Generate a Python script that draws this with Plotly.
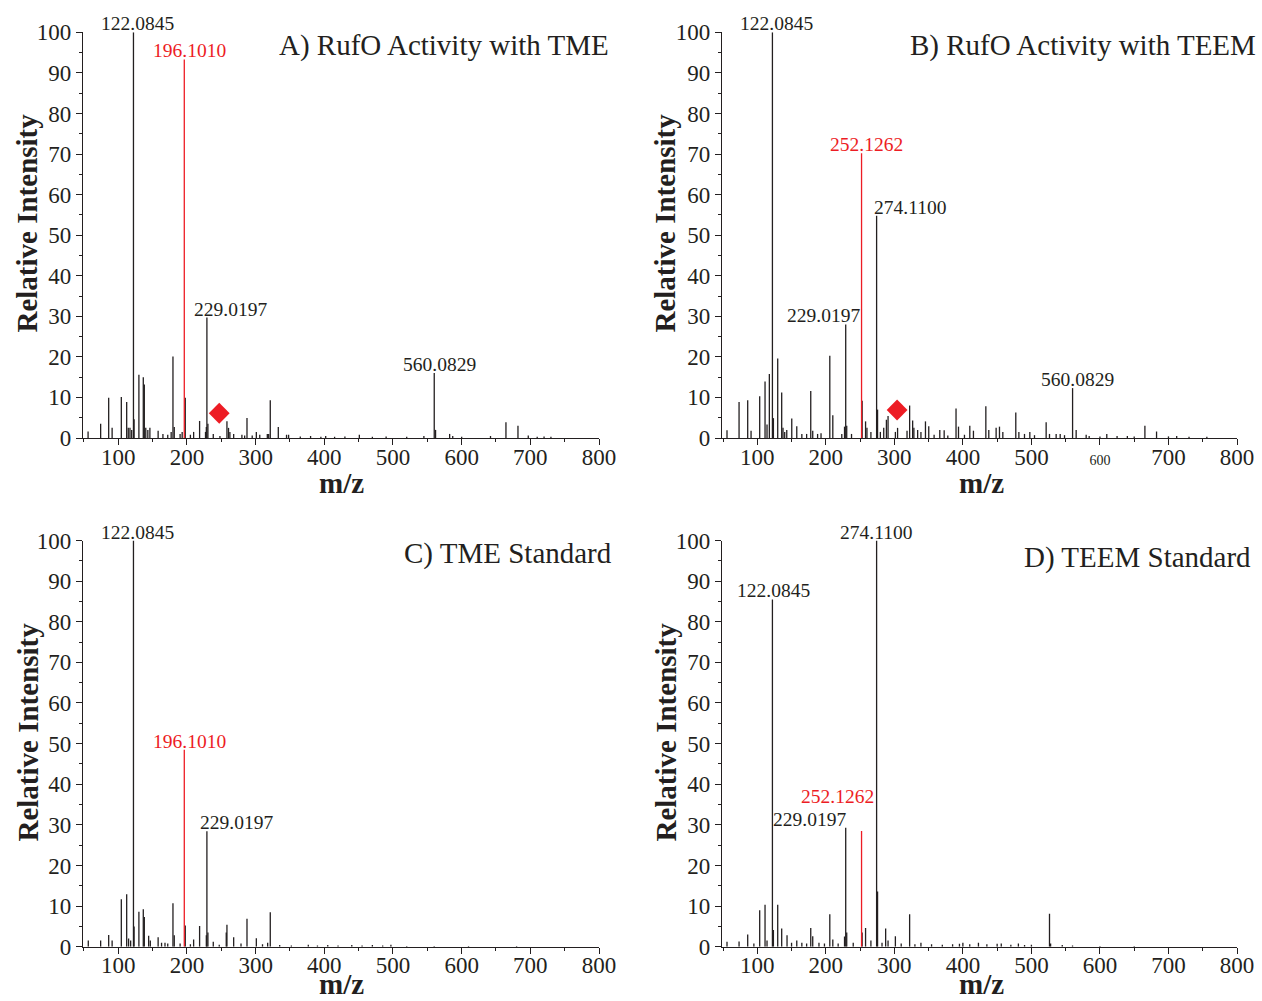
import plotly.graph_objects as go

W, H = 1262, 1001
INK = "#231f20"
RED = "#ed1c24"
FONT = "Liberation Serif, Times New Roman, serif"

# ---------------- data (m/z, relative intensity) ----------------
A_mz = [56.0, 74.3, 86.0, 91.0, 104.4, 112.2, 114.5, 117.0, 119.5, 122.08, 123.0,
        130.0, 136.4, 137.9, 140.0, 143.0, 146.0, 158.0, 165.0, 172.0, 177.0, 179.6,
        181.5, 190.0, 193.0, 197.5, 205.0, 209.7, 218.4, 227.0, 228.2, 229.02, 230.5,
        238.3, 248.0, 258.2, 260.5, 262.5, 268.0, 280.0, 284.0, 287.4, 295.0, 301.0,
        306.0, 317.0, 319.0, 321.3, 333.0, 345.0, 348.0, 365.0, 380.0, 395.0, 402.0,
        415.0, 430.0, 451.0, 470.0, 490.0, 520.0, 545.0, 560.08, 562.0, 582.5, 587.0,
        600.0, 642.0, 664.5, 682.0, 697.0, 710.0, 720.0, 730.0]
A_int = [1.6, 3.5, 9.9, 2.5, 10.1, 8.9, 2.5, 2.5, 2.0, 100.0, 4.6,
         15.6, 15.0, 13.2, 2.5, 2.0, 2.5, 1.8, 1.0, 0.8, 1.5, 20.1,
         2.7, 1.0, 1.5, 9.9, 0.8, 1.5, 4.2, 1.5, 2.7, 29.7, 3.5,
         1.0, 0.5, 4.1, 2.5, 1.5, 1.0, 0.8, 0.6, 4.9, 0.6, 1.5,
         0.8, 1.0, 1.0, 9.3, 2.7, 0.8, 0.8, 0.4, 0.5, 0.3, 0.5,
         0.3, 0.4, 0.8, 0.3, 0.4, 0.3, 0.5, 16.0, 2.0, 1.0, 0.5,
         0.3, 0.5, 3.9, 3.0, 0.6, 0.3, 0.4, 0.3]
A_red_mz = [196.10]
A_red_int = [93.3]

B_mz = [55.8, 73.4, 86.0, 90.9, 103.5, 111.3, 114.2, 117.6, 122.08, 123.5, 129.8,
        135.6, 137.5, 140.0, 143.0, 150.3, 157.6, 165.0, 172.0, 178.0, 180.9, 188.0,
        193.0, 205.8, 210.2, 223.3, 227.3, 229.02, 230.5, 237.5, 253.0, 258.0, 260.0,
        265.8, 274.11, 275.5, 279.6, 284.5, 288.4, 290.8, 301.5, 304.7, 318.5, 322.3,
        326.7, 328.5, 334.0, 338.8, 345.4, 350.2, 358.0, 366.3, 372.7, 378.0, 390.0,
        393.6, 402.3, 410.1, 415.4, 433.5, 437.8, 448.5, 453.4, 458.3, 477.2, 481.7,
        489.9, 497.7, 504.5, 521.5, 526.4, 536.1, 542.0, 548.3, 560.08, 565.3, 579.9,
        584.3, 600.0, 610.0, 625.0, 640.0, 650.0, 665.6, 682.6, 700.0, 712.0, 730.0,
        756.0]
B_int = [1.9, 8.9, 9.3, 1.8, 10.3, 13.9, 3.3, 15.8, 100.0, 4.9, 19.6,
         11.2, 2.5, 1.5, 2.0, 4.8, 2.9, 1.0, 1.0, 11.6, 1.8, 1.0,
         1.2, 20.3, 5.6, 1.0, 2.8, 28.0, 3.0, 1.0, 9.2, 4.1, 2.5,
         1.5, 54.8, 7.0, 1.5, 2.5, 4.5, 5.4, 1.5, 2.5, 1.8, 8.0,
         4.3, 2.5, 2.0, 1.5, 4.1, 2.9, 0.8, 2.0, 1.9, 0.6, 7.3,
         2.8, 0.8, 3.0, 1.8, 7.8, 2.0, 2.5, 2.8, 1.5, 6.3, 1.5,
         1.0, 1.5, 0.7, 3.9, 1.0, 1.0, 1.0, 0.7, 12.3, 2.0, 0.8,
         0.5, 0.4, 1.0, 0.5, 0.5, 0.4, 3.0, 1.6, 0.4, 0.5, 0.3,
         0.3]
B_red_mz = [252.13]
B_red_int = [70.2]

C_mz = [56.3, 74.3, 86.0, 91.0, 104.4, 112.2, 115.0, 118.0, 122.08, 123.0, 130.0,
        136.4, 137.9, 144.2, 146.6, 158.0, 163.0, 168.0, 172.0, 179.6, 181.5, 190.0,
        197.5, 205.0, 209.7, 218.4, 228.2, 229.02, 230.5, 238.3, 247.0, 257.2, 258.2,
        268.0, 278.7, 287.4, 301.0, 310.0, 317.5, 321.3, 335.0, 352.0, 376.7, 390.0,
        405.0, 420.0, 440.0, 455.0, 470.0, 485.0, 497.0, 520.0, 560.0, 610.0, 680.0]
C_int = [1.5, 1.5, 2.9, 1.5, 11.7, 12.9, 2.0, 1.5, 100.0, 5.0, 8.6,
         9.2, 7.3, 2.7, 1.5, 2.3, 1.0, 1.0, 0.8, 10.7, 2.8, 0.8,
         5.2, 0.6, 1.8, 5.1, 2.8, 28.4, 3.5, 1.2, 0.5, 3.5, 5.4,
         2.3, 0.8, 6.9, 2.1, 0.6, 1.0, 8.5, 0.4, 0.3, 0.5, 0.3,
         0.4, 0.3, 0.4, 0.3, 0.4, 0.3, 0.5, 0.2, 0.2, 0.2, 0.2]
C_red_mz = [196.10]
C_red_int = [48.5]

D_mz = [55.8, 73.4, 86.0, 95.0, 103.5, 111.3, 114.2, 122.08, 123.5, 129.8, 135.6,
        143.4, 150.0, 157.6, 165.0, 172.0, 178.0, 180.9, 190.0, 198.0, 205.8, 210.2,
        218.0, 227.3, 229.02, 230.5, 240.0, 253.0, 258.0, 265.8, 274.11, 275.5, 282.0,
        287.3, 290.8, 301.5, 310.0, 322.3, 330.0, 338.8, 354.3, 370.0, 385.0, 395.0,
        400.0, 410.0, 422.7, 435.0, 450.0, 456.0, 470.0, 481.0, 490.0, 500.0, 526.4,
        528.0, 545.0, 560.0, 600.0, 650.0]
D_int = [1.2, 1.3, 3.0, 0.8, 9.0, 10.3, 1.5, 85.5, 4.1, 10.3, 4.5,
         2.8, 1.0, 1.5, 1.0, 0.8, 4.6, 2.6, 1.0, 0.8, 8.0, 1.8,
         0.8, 2.5, 29.3, 3.5, 1.0, 3.5, 4.6, 1.5, 100.0, 13.6, 1.0,
         4.5, 1.5, 2.6, 0.8, 8.0, 0.6, 1.0, 0.6, 0.5, 0.6, 0.7,
         1.0, 0.6, 1.0, 0.6, 0.7, 0.8, 0.5, 0.8, 0.4, 0.5, 8.1,
         0.8, 0.4, 0.3, 0.2, 0.2]
D_red_mz = [252.13]
D_red_int = [28.5]

# labelled peaks: (text, peak m/z, peak intensity, colour key)
A_labels = [("122.0845", 122.08, 100.0, "k"), ("196.1010", 196.10, 93.3, "r"),
            ("229.0197", 229.02, 29.7, "k"), ("560.0829", 560.08, 16.0, "k")]
B_labels = [("122.0845", 122.08, 100.0, "k"), ("252.1262", 252.13, 70.2, "r"),
            ("274.1100", 274.11, 54.8, "k"), ("229.0197", 229.02, 28.0, "k"),
            ("560.0829", 560.08, 12.3, "k")]
C_labels = [("122.0845", 122.08, 100.0, "k"), ("196.1010", 196.10, 48.5, "r"),
            ("229.0197", 229.02, 28.4, "k")]
D_labels = [("274.1100", 274.11, 100.0, "k"), ("122.0845", 122.08, 85.5, "k"),
            ("252.1262", 252.13, 28.5, "r"), ("229.0197", 229.02, 29.3, "k")]

# diamond markers (m/z, intensity)
A_diamond = ([247.0], [6.1])
B_diamond = ([304.0], [6.9])

titles = ["A) RufO Activity with TME", "B) RufO Activity with TEEM",
          "C) TME Standard", "D) TEEM Standard"]
x_ticks = [100, 200, 300, 400, 500, 600, 700, 800]
y_ticks = [0, 10, 20, 30, 40, 50, 60, 70, 80, 90, 100]

# ---------------- layout geometry (pixels) ----------------
def px(x):
    return x / W

def py(y):
    return 1 - y / H

col_dom = [[px(83), px(599)], [px(722), px(1237)]]
row_dom = [[py(438), py(32.3)], [py(946.7), py(540.5)]]

# label centre offsets in m/z units and label vertical offset (intensity units)
label_dx = {
    "A": [6.1, 7.3, 35.0, 7.3],
    "B": [6.4, 7.7, 49.2, -33.0, 7.2],
    "C": [6.5, 7.3, 43.8],
    "D": [-0.7, 0.9, -35.2, -53.0],
}
label_dy = {"A": [0, 0, 0, 0], "B": [0, 0, 0, 0, 0], "C": [0, 0, 0], "D": [0, 0, 6.5, 0]}

fig = go.Figure()

panels = [
    ("A", 0, 0, A_mz, A_int, A_red_mz, A_red_int, A_labels, A_diamond),
    ("B", 0, 1, B_mz, B_int, B_red_mz, B_red_int, B_labels, B_diamond),
    ("C", 1, 0, C_mz, C_int, C_red_mz, C_red_int, C_labels, None),
    ("D", 1, 1, D_mz, D_int, D_red_mz, D_red_int, D_labels, None),
]

def sticks(mz, inten):
    xs, ys = [], []
    for m, v in zip(mz, inten):
        xs += [m, m, None]
        ys += [0, v, None]
    return xs, ys

annotations = []
for i, (key, r, c, mz, inten, rmz, rint, labels, diamond) in enumerate(panels):
    n = "" if i == 0 else str(i + 1)
    xa, ya = "x" + n, "y" + n
    xs, ys = sticks(mz, inten)
    fig.add_trace(go.Scatter(x=xs, y=ys, mode="lines", xaxis=xa, yaxis=ya,
                             line=dict(color=INK, width=1.3), hoverinfo="skip",
                             showlegend=False, connectgaps=False))
    xs, ys = sticks(rmz, rint)
    fig.add_trace(go.Scatter(x=xs, y=ys, mode="lines", xaxis=xa, yaxis=ya,
                             line=dict(color=RED, width=1.3), hoverinfo="skip",
                             showlegend=False))
    if diamond is not None:
        fig.add_trace(go.Scatter(x=diamond[0], y=diamond[1], mode="markers",
                                 xaxis=xa, yaxis=ya, hoverinfo="skip", showlegend=False,
                                 marker=dict(symbol="diamond", size=16, color=RED,
                                             line=dict(width=0))))
    # axes
    rng_x = [48.6, 800] if c == 0 else [48.5, 800]
    tickvals = x_ticks
    ticktext = [str(t) for t in x_ticks]
    if key == "B":
        ticktext = [("<span style='font-size:14px'>600</span>" if t == 600 else str(t))
                    for t in x_ticks]
    common = dict(showgrid=False, zeroline=False, showline=True, linecolor=INK,
                  linewidth=1.3, ticks="outside", tickcolor=INK, tickwidth=1.3,
                  ticklen=6, tickfont=dict(family=FONT, size=23, color=INK),
                  fixedrange=True, automargin=False)
    fig.layout["xaxis" + n] = dict(domain=col_dom[c], anchor=ya, range=rng_x,
                                   tickmode="array", tickvals=tickvals, ticktext=ticktext,
                                   ticklabelstandoff=-8,
                                   minor=dict(ticks="outside", ticklen=3, tickcolor=INK,
                                              tickwidth=1.1, dtick=50, tick0=50),
                                   **common)
    fig.layout["yaxis" + n] = dict(domain=row_dom[r], anchor=xa, range=[0, 100],
                                   tickmode="array", tickvals=y_ticks,
                                   minor=dict(ticks="outside", ticklen=3, tickcolor=INK,
                                              tickwidth=1.1, dtick=5, tick0=0),
                                   **common)
    # peak labels
    for j, (txt, pm, pv, col) in enumerate(labels):
        annotations.append(dict(
            x=pm + label_dx[key][j], y=pv + label_dy[key][j], xref=xa, yref=ya,
            text=txt, showarrow=False, xanchor="center", yanchor="bottom", yshift=-4,
            font=dict(family=FONT, size=19.5, color=RED if col == "r" else INK)))

# panel titles
title_pos = [(611, 45), (1258, 45), (614, 553), (1253, 557)]
for t, (tx, ty) in zip(titles, title_pos):
    annotations.append(dict(x=px(tx), y=py(ty), xref="paper", yref="paper", text=t,
                            showarrow=False, xanchor="right", yanchor="middle",
                            font=dict(family=FONT, size=29, color=INK)))

# axis titles
for (cx, cy) in [(27, 223.5), (665, 223.5), (27, 732.5), (665, 732.5)]:
    annotations.append(dict(x=px(cx), y=py(cy), xref="paper", yref="paper",
                            text="<b>Relative Intensity</b>", textangle=-90,
                            showarrow=False, xanchor="center", yanchor="middle",
                            font=dict(family=FONT, size=29, color=INK)))
for (cx, cy) in [(341, 483), (981, 483)]:
    annotations.append(dict(x=px(cx), y=py(cy), xref="paper", yref="paper",
                            text="<b>m/z</b>", showarrow=False, xanchor="center",
                            yanchor="middle",
                            font=dict(family=FONT, size=29, color=INK)))
for cx in [341, 981]:
    annotations.append(dict(x=px(cx), y=0, xref="paper", yref="paper",
                            text="<b>m/z</b>", showarrow=False, xanchor="center",
                            yanchor="bottom", borderpad=0,
                            font=dict(family=FONT, size=29, color=INK)))

fig.update_layout(width=W, height=H, margin=dict(l=0, r=0, t=0, b=0, pad=0,
                                                 autoexpand=False),
                  paper_bgcolor="white", plot_bgcolor="white",
                  annotations=annotations, showlegend=False)

fig.write_html("out.html", config={"displayModeBar": False},
               post_script="document.body.style.margin='0px';"
                           "document.body.style.overflow='hidden';")
